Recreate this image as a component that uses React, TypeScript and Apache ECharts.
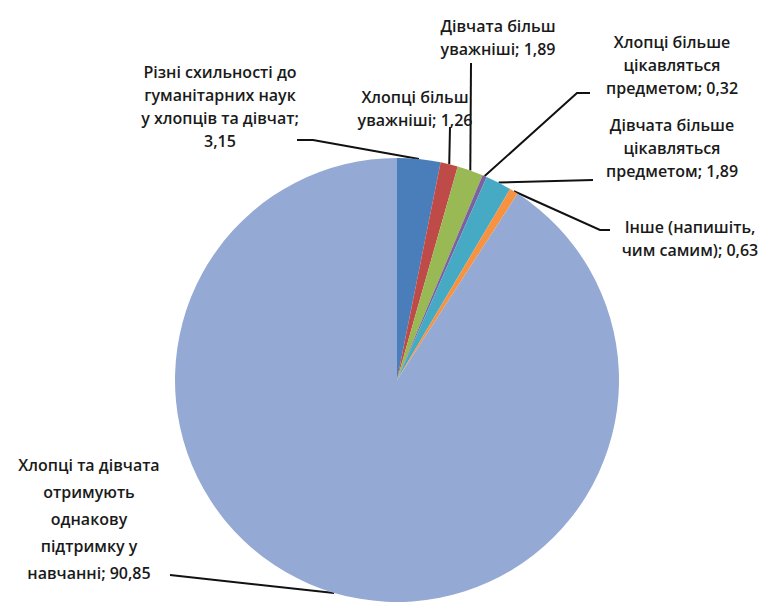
import React, { useEffect, useRef } from "react";
import * as echarts from "echarts";

const categories = [
  "Різні схильності до\nгуманітарних наук\nу хлопців та дівчат",
  "Хлопці більш\nуважніші",
  "Дівчата більш\nуважніші",
  "Хлопці більше\nцікавляться\nпредметом",
  "Дівчата більше\nцікавляться\nпредметом",
  "Інше (напишіть,\nчим самим)",
  "Хлопці та дівчата\nотримують\nоднакову\nпідтримку у\nнавчанні",
];
const values = [3.15, 1.26, 1.89, 0.32, 1.89, 0.63, 90.85];
const separators = [";\n", "; ", "; ", "; ", "; ", "; ", "; "];
const colors = ["#4A7EBB", "#BE4B48", "#98B954", "#7D60A0", "#46AAC5", "#F69240", "#94A9D3"];

// label block centres and leader-line bends (layout, not data)
const labelPos: [number, number][] = [
  [220, 106],
  [415, 108],
  [498, 37],
  [672, 65],
  [672, 148],
  [690, 238],
  [89, 519],
];
const leaderBends: [number, number][][] = [
  [[313, 140], [297, 140]],
  [[450, 127], [450, 127]],
  [[471, 63], [471, 63]],
  [[577, 93], [590, 93]],
  [[593, 180], [593, 180]],
  [[600, 230], [610, 230]],
  [[170, 575], [170, 575]],
];

export default function App() {
  const ref = useRef<HTMLDivElement>(null);
  useEffect(() => {
    document.body.style.margin = "0";
    const chart = echarts.init(ref.current!, null, { renderer: "svg" });
    chart.setOption({
      animation: false,
      backgroundColor: "#ffffff",
      color: colors,
      series: [
        {
          type: "pie",
          center: [397, 380],
          radius: 222,
          startAngle: 90,
          clockwise: true,
          avoidLabelOverlap: false,
          itemStyle: { borderWidth: 0 },
          data: categories.map((c, i) => ({
            name: c,
            value: values[i],
            label: i === 6 ? { lineHeight: 27 } : undefined,
          })),
          label: {
            show: true,
            formatter: (p: any) =>
              p.name + separators[p.dataIndex] + values[p.dataIndex].toFixed(2).replace(".", ","),
            fontFamily: "Open Sans",
            fontSize: 16,
            fontWeight: 600,
            lineHeight: 23,
            color: "#1a1a1a",
            align: "center",
          },
          labelLine: {
            show: true,
            lineStyle: { color: "#111111", width: 2 },
          },
          labelLayout: (params: any) => {
            const i = params.dataIndex;
            const pts = params.labelLinePoints;
            const start = pts ? pts[0] : [0, 0];
            return {
              x: labelPos[i][0],
              y: labelPos[i][1],
              align: "center",
              verticalAlign: "middle",
              labelLinePoints: [start, leaderBends[i][0], leaderBends[i][1]],
            };
          },
        },
      ],
    });
    return () => chart.dispose();
  }, []);
  return <div ref={ref} style={{ width: 771, height: 604 }} />;
}
